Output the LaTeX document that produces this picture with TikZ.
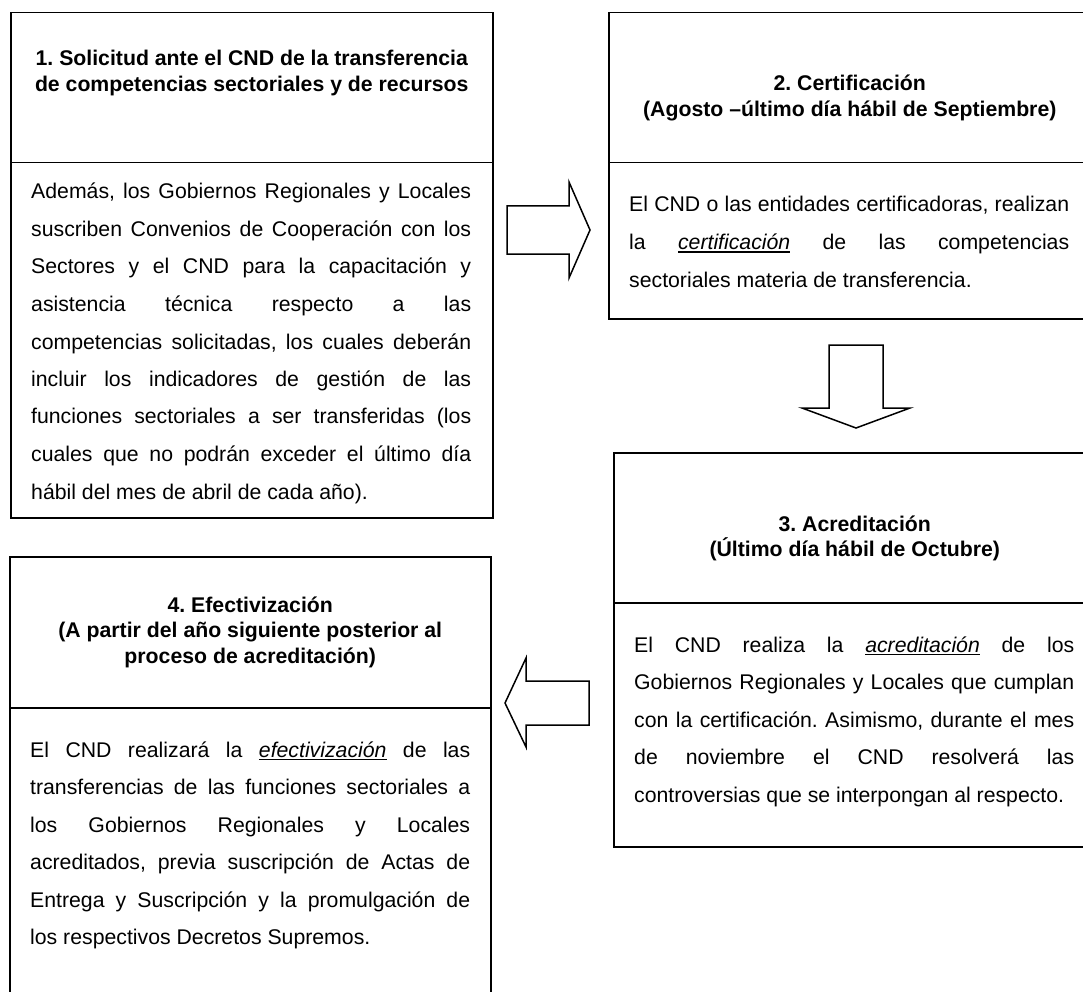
\documentclass[tikz,border=0pt]{standalone}
\usepackage{fontspec}
\setmainfont{Liberation Sans}
\usetikzlibrary{calc}
\frenchspacing
\newcommand{\uit}[1]{\leavevmode\setbox0=\hbox{\itshape #1}\rlap{\rule[-3pt]{\wd0}{1.1pt}}\box0\relax}
\newcommand{\bodyset}{\frenchspacing\tolerance=10000\hbadness=10000\hyphenpenalty=10000\parindent=0pt}
\tikzset{
  frame/.style={draw=black, line width=1.5pt, inner sep=0pt, anchor=north west, rectangle},
  blockarrow/.style={draw=black, line width=1.5pt, fill=white, line join=miter},
  bodytext/.style={inner sep=0pt, anchor=base west, font=\fontsize{21.25}{37.5}\selectfont},
  titletext/.style={inner sep=0pt, anchor=base, font=\fontsize{21.25}{25.5}\selectfont\bfseries},
}
\begin{document}
\begin{tikzpicture}[x=1pt,y=-1pt]
\useasboundingbox (0,0) rectangle (1083,992);
\clip (0,0) rectangle (1083,992);
\fill[white] (0,0) rectangle (1083,992);

% frames
\node[frame, minimum width=482pt, minimum height=150pt] (t1) at (10,12) {};
\node[frame, minimum width=482pt, minimum height=355pt] (b1) at (10,162) {};
\node[frame, minimum width=482pt, minimum height=150pt] (t2) at (608,12) {};
\node[frame, minimum width=482pt, minimum height=156pt] (b2) at (608,162) {};
\node[frame, minimum width=482pt, minimum height=150pt] (t3) at (613,452) {};
\node[frame, minimum width=482pt, minimum height=244pt] (b3) at (613,602) {};
\node[frame, minimum width=481pt, minimum height=151pt] (t4) at (9,556) {};
\node[frame, minimum width=481pt, minimum height=310pt] (b4) at (9,707) {};

% titles
\node[titletext] (h1) at ($(t1.north)+(0,54)$) {\parbox[t]{470pt}{\centering\frenchspacing 1. Solicitud ante el CND de la transferencia\\de competencias sectoriales y de recursos}};
\node[titletext] (h2) at ($(t2.north)+(0,79)$) {\parbox[t]{470pt}{\centering\frenchspacing 2. Certificación\\(Agosto –último día hábil de Septiembre)}};
\node[titletext] (h3) at ($(t3.north)+(0,79)$) {\parbox[t]{470pt}{\centering\frenchspacing 3. Acreditación\\(Último día hábil de Octubre)}};
\node[titletext] (h4) at ($(t4.north)+(0,56)$) {\parbox[t]{470pt}{\centering\frenchspacing 4. Efectivización\\(A partir del año siguiente posterior al\\proceso de acreditación)}};

% bodies
\node[bodytext] (p1) at ($(b1.north west)+(21,37)$) {\parbox[t]{440pt}{\bodyset
Además, los Gobiernos Regionales y Locales\linebreak
suscriben Convenios de Cooperación con los\linebreak
Sectores y el CND para la capacitación y\linebreak
asistencia técnica respecto a las\linebreak
competencias solicitadas, los cuales deberán\linebreak
incluir los indicadores de gestión de las\linebreak
funciones sectoriales a ser transferidas (los\linebreak
cuales que no podrán exceder el último día\linebreak
hábil del mes de abril de cada año).}};

\node[bodytext] (p2) at ($(b2.north west)+(21,50)$) {\parbox[t]{440pt}{\bodyset
El CND o las entidades certificadoras, realizan\linebreak
la \uit{certificación} de las competencias\linebreak
sectoriales materia de transferencia.}};

\node[bodytext] (p3) at ($(b3.north west)+(21,50)$) {\parbox[t]{440pt}{\bodyset
El CND realiza la \uit{acreditación} de los\linebreak
Gobiernos Regionales y Locales que cumplan\linebreak
con la certificación. Asimismo, durante el mes\linebreak
de noviembre el CND resolverá las\linebreak
controversias que se interpongan al respecto.}};

\node[bodytext] (p4) at ($(b4.north west)+(21,50)$) {\parbox[t]{440pt}{\bodyset
El CND realizará la \uit{efectivización} de las\linebreak
transferencias de las funciones sectoriales a\linebreak
los Gobiernos Regionales y Locales\linebreak
acreditados, previa suscripción de Actas de\linebreak
Entrega y Suscripción y la promulgación de\linebreak
los respectivos Decretos Supremos.}};

% block arrows
\draw[blockarrow] (507,206) -- (569,206) -- (569,182) -- (590,230) -- (569,278) -- (569,254) -- (507,254) -- cycle;
\draw[blockarrow] (829,345) -- (883,345) -- (883,408) -- (910,408) -- (856,428) -- (802,408) -- (829,408) -- cycle;
\draw[blockarrow] (589,681) -- (526,681) -- (526,658) -- (505,703) -- (526,747) -- (526,725) -- (589,725) -- cycle;
\end{tikzpicture}
\end{document}
